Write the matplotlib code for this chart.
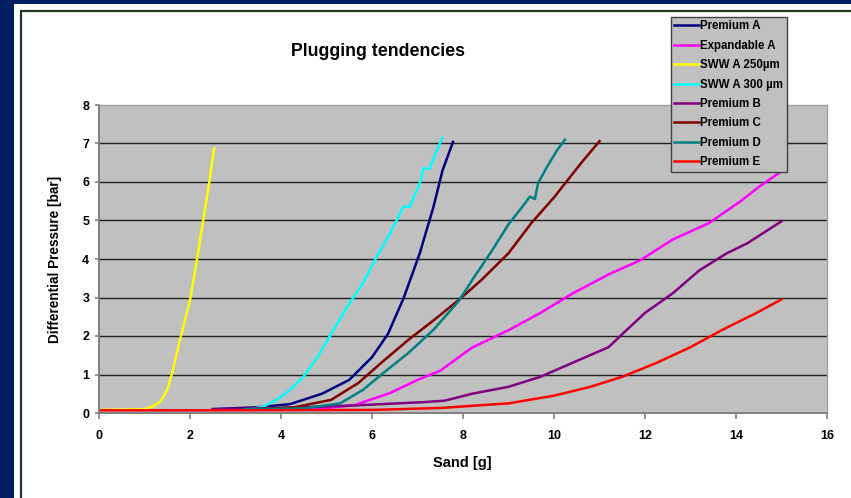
import matplotlib
matplotlib.use("Agg")
import matplotlib.pyplot as plt
from matplotlib.patches import Rectangle

# values
premium_a_x = [2.5, 3.5, 4.2, 4.9, 5.5, 6.0, 6.35, 6.7, 7.05, 7.35, 7.55, 7.78]
premium_a_y = [0.1, 0.15, 0.23, 0.5, 0.86, 1.45, 2.05, 3.0, 4.15, 5.35, 6.3, 7.04]

expandable_a_x = [4.0, 5.0, 5.6, 6.4, 7.0, 7.5, 8.2, 9.0, 9.7, 10.4, 11.2, 11.9, 12.6, 13.4, 14.1, 14.5, 15.0]
expandable_a_y = [0.1, 0.13, 0.2, 0.52, 0.86, 1.1, 1.7, 2.15, 2.6, 3.1, 3.6, 3.97, 4.5, 4.93, 5.5, 5.87, 6.28]

sww250_x = [0.0, 1.0, 1.2, 1.35, 1.5, 1.6, 1.78, 2.0, 2.15, 2.29, 2.42, 2.53]
sww250_y = [0.08, 0.1, 0.18, 0.3, 0.6, 1.0, 1.9, 2.93, 3.97, 5.0, 5.97, 6.88]

sww300_x = [3.3, 3.6, 3.9, 4.2, 4.5, 4.8, 5.1, 5.45, 5.8, 6.1, 6.4, 6.69, 6.83, 7.05, 7.13, 7.27, 7.35, 7.54]
sww300_y = [0.1, 0.16, 0.34, 0.6, 0.95, 1.45, 2.05, 2.75, 3.37, 4.05, 4.67, 5.36, 5.36, 5.97, 6.35, 6.35, 6.6, 7.14]

premium_b_x = [2.5, 4.0, 5.5, 7.1, 7.6, 8.2, 9.0, 9.7, 10.4, 11.2, 11.6, 12.0, 12.6, 13.2, 13.8, 14.25, 15.0]
premium_b_y = [0.1, 0.13, 0.19, 0.28, 0.32, 0.5, 0.68, 0.94, 1.3, 1.71, 2.16, 2.6, 3.1, 3.71, 4.15, 4.41, 4.98]

premium_c_x = [3.5, 4.3, 5.1, 5.7, 6.2, 6.8, 7.4, 7.9, 8.4, 9.0, 9.5, 10.0, 10.3, 10.65, 11.0]
premium_c_y = [0.1, 0.15, 0.34, 0.78, 1.3, 1.9, 2.45, 2.93, 3.45, 4.15, 4.93, 5.6, 6.05, 6.57, 7.06]

premium_d_x = [3.2, 4.5, 5.3, 5.8, 6.25, 6.8, 7.35, 7.9, 8.25, 8.6, 9.0, 9.3, 9.47, 9.58, 9.65, 9.85, 10.07, 10.24]
premium_d_y = [0.1, 0.12, 0.25, 0.6, 1.04, 1.56, 2.16, 2.9, 3.54, 4.15, 4.9, 5.35, 5.62, 5.56, 5.97, 6.4, 6.83, 7.1]

premium_e_x = [0.0, 3.0, 6.0, 7.5, 9.0, 10.0, 10.8, 11.5, 12.25, 13.0, 13.7, 14.45, 15.0]
premium_e_y = [0.07, 0.07, 0.08, 0.13, 0.25, 0.45, 0.68, 0.94, 1.3, 1.71, 2.16, 2.6, 2.95]

series = [
    ("Premium A", premium_a_x, premium_a_y, "#000080"),
    ("Expandable A", expandable_a_x, expandable_a_y, "#FF00FF"),
    ("SWW A 250µm", sww250_x, sww250_y, "#FFFF00"),
    ("SWW A 300 µm", sww300_x, sww300_y, "#00FFFF"),
    ("Premium B", premium_b_x, premium_b_y, "#800080"),
    ("Premium C", premium_c_x, premium_c_y, "#800000"),
    ("Premium D", premium_d_x, premium_d_y, "#008080"),
    ("Premium E", premium_e_x, premium_e_y, "#FF0000"),
]

plt.rcParams['font.family'] = ['Liberation Sans', 'DejaVu Sans']
plt.rcParams['font.weight'] = 'bold'

W, H = 851, 498
fig = plt.figure(figsize=(W / 100, H / 100), dpi=100)
fig.set_facecolor("#00205F")

# white slide panel and dark green chart border
fig.patches.append(Rectangle((14 / W, -0.1), 1.0, 1.1 - 4 / H, transform=fig.transFigure,
                             facecolor="white", edgecolor="none", zorder=-2))
fig.patches.append(Rectangle((21 / W, -0.1), 1.0, 1.1 - 11 / H, transform=fig.transFigure,
                             facecolor="none", edgecolor="#1E3A1E", lw=1.6, zorder=-1))

ax = fig.add_axes([99 / W, 1 - 413 / H, 728 / W, 308 / H])
ax.set_facecolor("#C0C0C0")

for name, xs, ys, color in series:
    ax.plot(xs, ys, color=color, lw=1.8, label=name, solid_joinstyle='round')

ax.set_xlim(0, 16)
ax.set_ylim(0, 8)
ax.set_xticks(range(0, 17, 2))
ax.set_yticks(range(0, 9))
ax.yaxis.grid(True, color="#202020", lw=1.0)
gl = ax.get_ygridlines()
gl[0].set_visible(False)
gl[-1].set_visible(False)
ax.set_axisbelow(True)

for side in ["left", "bottom"]:
    ax.spines[side].set_color("#808080")
    ax.spines[side].set_linewidth(1.4)
for side in ["top", "right"]:
    ax.spines[side].set_color("#A0A0A0")
    ax.spines[side].set_linewidth(1.0)

ax.tick_params(axis='x', direction='out', length=4, color="#808080", width=1.2,
               labelsize=9, pad=8)
ax.tick_params(axis='y', direction='out', length=3, color="#808080", width=1.2,
               labelsize=9, pad=4)

fig.text(378 / W, 1 - 52 / H, "Plugging tendencies", ha='center', va='center',
         fontsize=12.8, fontweight='bold')
fig.text(55 / W, 1 - 259 / H, "Differential Pressure [bar]", ha='center', va='center',
         rotation=90, fontsize=9.8, fontweight='bold')
fig.text(462 / W, 1 - 463 / H, "Sand [g]", ha='center', va='center',
         fontsize=10.5, fontweight='bold')

leg = ax.legend(loc='upper left', bbox_to_anchor=(671 / W, 1 - 17 / H),
                bbox_transform=fig.transFigure, borderaxespad=0, frameon=True,
                fancybox=False, facecolor="#C0C0C0", edgecolor="#404040",
                framealpha=1, handlelength=2.1, handletextpad=0.15,
                labelspacing=0.64, borderpad=0.3, prop={'weight': 'bold', 'size': 8.3})
leg.get_frame().set_linewidth(1.0)
leg.set_zorder(10)

fig.savefig("out.png", dpi=100, facecolor=fig.get_facecolor())
